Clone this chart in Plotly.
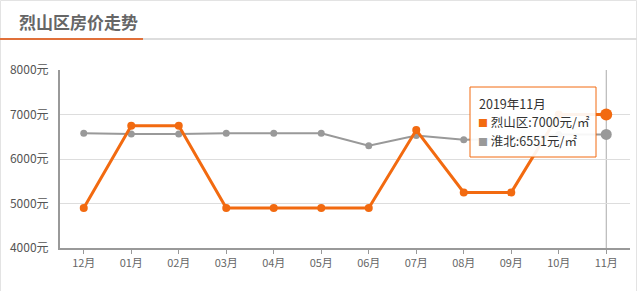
import plotly.graph_objects as go

months = ["12月", "01月", "02月", "03月", "04月", "05月", "06月", "07月", "08月", "09月", "10月", "11月"]
lieshan = [4900, 6750, 6750, 4900, 4900, 4900, 4900, 6650, 5250, 5250, 7000, 7000]
huaibei = [6580, 6560, 6560, 6580, 6580, 6580, 6300, 6530, 6430, 6450, 6550, 6551]
yticks = [4000, 5000, 6000, 7000, 8000]
ytick_labels = [f"{v}元" for v in yticks]
title_text = "烈山区房价走势"
tip_title = "2019年11月"

W, H = 637, 291
L, R, T, B = 60, 7, 70, 43
PW, PH = W - L - R, H - T - B

def px(x):
    return (x - L) / PW

def py(y):
    return (H - B - y) / PH

ORANGE = "#f26a10"
GRAY = "#999999"
FONT = "Noto Sans CJK SC"

hi = len(months) - 1
fig = go.Figure()
fig.add_trace(go.Scatter(
    x=months, y=huaibei, mode="lines+markers",
    line=dict(color=GRAY, width=2),
    marker=dict(color=GRAY, size=[7] * hi + [11], opacity=1, line=dict(width=0)),
    name="淮北", hoverinfo="skip"))
fig.add_trace(go.Scatter(
    x=months, y=lieshan, mode="lines+markers",
    line=dict(color=ORANGE, width=3),
    marker=dict(color=ORANGE, size=[8] * hi + [12], opacity=1, line=dict(width=0)),
    name="烈山区", hoverinfo="skip"))

shapes = [
    dict(type="rect", xref="paper", yref="paper", x0=px(0.5), x1=px(W - 0.5), y0=py(H + 5), y1=py(0.5),
         line=dict(color="#e3e3e3", width=1), layer="below"),
    dict(type="line", xref="paper", yref="paper", x0=px(0), x1=px(W), y0=py(39), y1=py(39),
         line=dict(color="#dddddd", width=2)),
    dict(type="line", xref="paper", yref="paper", x0=px(0), x1=px(143), y0=py(39), y1=py(39),
         line=dict(color="#e0703a", width=2)),
    dict(type="line", xref="x", yref="paper", x0=months[hi], x1=months[hi], y0=0, y1=1,
         line=dict(color="#aaaaaa", width=1), layer="below"),
    dict(type="rect", xref="paper", yref="paper", x0=px(470), x1=px(596), y0=py(157), y1=py(87),
         line=dict(color=ORANGE, width=1), fillcolor="rgba(255,255,255,0.92)"),
]

annotations = [
    dict(text="<b>" + title_text + "</b>", xref="paper", yref="paper", x=px(17), y=py(21),
         xanchor="left", yanchor="middle", showarrow=False,
         font=dict(family=FONT, size=17, color="#666666")),
    dict(text=tip_title, xref="paper", yref="paper", x=px(477), y=py(103),
         xanchor="left", yanchor="middle", showarrow=False,
         font=dict(family=FONT, size=12.5, color="#333333")),
    dict(text="<span style='color:%s;font-size:10px'>■</span> 烈山区:%d元/㎡" % (ORANGE, lieshan[hi]),
         xref="paper", yref="paper", x=px(476), y=py(121),
         xanchor="left", yanchor="middle", showarrow=False,
         font=dict(family=FONT, size=12.5, color="#333333")),
    dict(text="<span style='color:%s;font-size:10px'>■</span> 淮北:%d元/㎡" % (GRAY, huaibei[hi]),
         xref="paper", yref="paper", x=px(476), y=py(140),
         xanchor="left", yanchor="middle", showarrow=False,
         font=dict(family=FONT, size=12.5, color="#333333")),
]

fig.update_layout(
    width=W, height=H,
    margin=dict(l=L, r=R, t=T, b=B),
    paper_bgcolor="white", plot_bgcolor="white",
    showlegend=False,
    font=dict(family=FONT, color="#666666", size=11),
    shapes=shapes, annotations=annotations,
    xaxis=dict(type="category", range=[-0.5, len(months) - 0.5],
               showline=True, linecolor="#999999", linewidth=2,
               showgrid=False, ticks="outside", ticklen=4, tickcolor="#999999",
               tickfont=dict(size=11, color="#666666"), fixedrange=True),
    yaxis=dict(range=[4000, 8000], tickmode="array", tickvals=yticks, ticktext=ytick_labels,
               showline=True, linecolor="#999999", linewidth=2,
               gridcolor="#dddddd", gridwidth=1, zeroline=False,
               ticks="", ticklabelstandoff=7,
               tickfont=dict(size=12, color="#555555"), fixedrange=True),
)

fig.write_html("out.html")
